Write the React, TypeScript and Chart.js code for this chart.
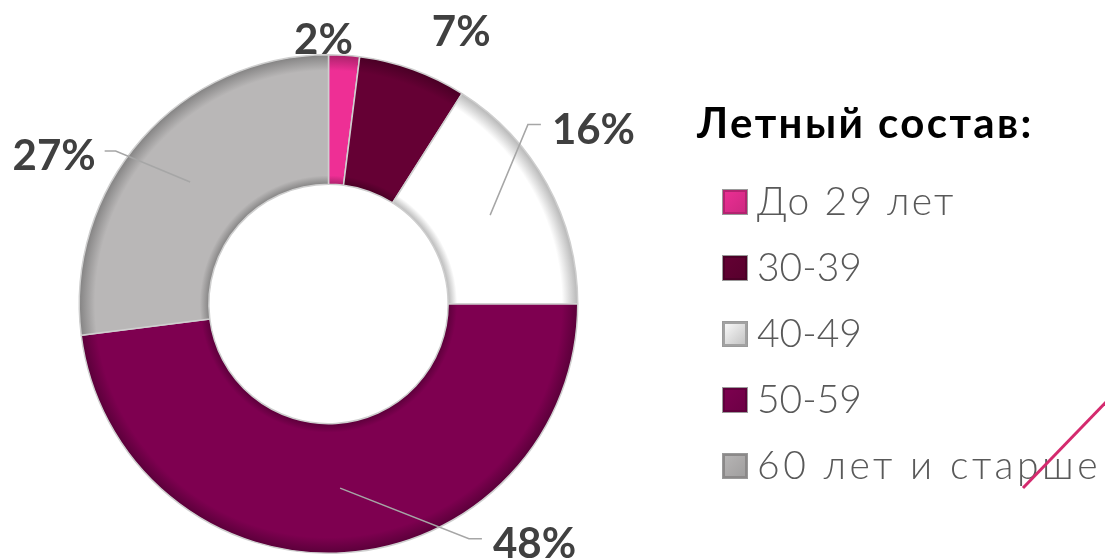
import React, { useEffect, useRef } from "react";
import { Chart, registerables } from "chart.js";

Chart.register(...registerables);

// ---- data ----
const categories = ["До 29 лет", "30-39", "40-49", "50-59", "60 лет и старше"];
const shares = [2, 7, 16, 48, 27];
const valueLabels = ["2%", "7%", "16%", "48%", "27%"];
const legendTitle = "Летный состав:";

// ---- style ----
const sliceColors = ["#EE2F95", "#650034", "#FFFFFF", "#7E0050", "#B9B7B7"];
const CUTOUT = 0.48;
const labelPlacement = [
  { dAngle: -4.7, dRadius: 16, leader: false },
  { dAngle: 6.1, dRadius: 54.6, leader: false },
  { dAngle: -4.7, dRadius: 68.5, leader: true },
  { dAngle: -37.2, dRadius: 66, leader: true },
  { dAngle: -12.9, dRadius: 63, leader: true },
];
const LABEL_FONT = "bold 42px Lato, 'Open Sans', sans-serif";
const LEGEND_TITLE_FONT = "bold 42px Lato, 'Open Sans', sans-serif";
const LEGEND_FONT = "300 39px Lato, 'Open Sans', sans-serif";

function shade(hex: string, f: number) {
  const n = parseInt(hex.slice(1), 16);
  const r = Math.round(((n >> 16) & 255) * f);
  const g = Math.round(((n >> 8) & 255) * f);
  const b = Math.round((n & 255) * f);
  return `rgb(${r},${g},${b})`;
}

function bevelFill(ctx: any) {
  const chart = ctx.chart;
  const area = chart.chartArea;
  const base = sliceColors[ctx.dataIndex];
  if (!area) return base;
  const outer = Math.min(area.right - area.left, area.bottom - area.top) / 2 - 1;
  const inner = outer * CUTOUT;
  const cx = (area.left + area.right) / 2;
  const cy = (area.top + area.bottom) / 2;
  const g = chart.ctx.createRadialGradient(cx, cy, inner, cx, cy, outer);
  g.addColorStop(0, shade(base, 0.72));
  g.addColorStop(0.07, base);
  g.addColorStop(0.88, base);
  g.addColorStop(1, shade(base, 0.72));
  return g;
}

const labelsPlugin = {
  id: "valueLabels",
  afterDatasetsDraw(chart: any) {
    const ctx = chart.ctx;
    const meta = chart.getDatasetMeta(0);
    ctx.save();
    ctx.font = LABEL_FONT;
    meta.data.forEach((arc: any, i: number) => {
      const p = arc.getProps(["x", "y", "startAngle", "endAngle", "innerRadius", "outerRadius"], true);
      const mid = (p.startAngle + p.endAngle) / 2;
      const pl = labelPlacement[i];
      const ang = mid + (pl.dAngle * Math.PI) / 180;
      const rad = p.outerRadius + pl.dRadius;
      const lx = p.x + Math.cos(ang) * rad;
      const ly = p.y + Math.sin(ang) * rad;
      const text = valueLabels[i];
      const w = ctx.measureText(text).width;
      if (pl.leader) {
        const rm = (p.innerRadius + p.outerRadius) / 2;
        const sx = p.x + Math.cos(mid) * rm;
        const sy = p.y + Math.sin(mid) * rm;
        let ex: number, hx: number;
        const yy = ly - 4;
        if (lx > sx) {
          ex = lx - w / 2 - 24;
          hx = lx - w / 2 - 11;
        } else {
          ex = lx + w / 2 + 20;
          hx = lx + w / 2 + 9;
        }
        ctx.strokeStyle = "#A6A6A6";
        ctx.lineWidth = 1.5;
        ctx.beginPath();
        ctx.moveTo(sx, sy);
        ctx.lineTo(ex, yy);
        ctx.lineTo(hx, yy);
        ctx.stroke();
      }
      ctx.fillStyle = "#404040";
      ctx.textAlign = "center";
      ctx.textBaseline = "alphabetic";
      ctx.fillText(text, lx, ly + 15);
    });
    ctx.restore();
  },
};

const legendPlugin = {
  id: "sideLegend",
  afterDraw(chart: any) {
    const ctx = chart.ctx;
    ctx.save();
    ctx.textAlign = "left";
    ctx.textBaseline = "alphabetic";
    ctx.font = LEGEND_TITLE_FONT;
    ctx.fillStyle = "#000000";
    (ctx as any).letterSpacing = "2.4px";
    ctx.fillText(legendTitle, 697, 138);
    const x0 = 722;
    const size = 26;
    categories.forEach((name, i) => {
      const base = 215 + i * 66;
      const top = base - size;
      const c = sliceColors[i];
      // bevelled marker
      (ctx as any).letterSpacing = "0px";
      ctx.fillStyle = shade(c === "#FFFFFF" ? "#D8D8D8" : c, 0.75);
      ctx.fillRect(x0, top, size, size);
      const g = ctx.createLinearGradient(x0, top, x0 + size, top + size);
      g.addColorStop(0, c === "#FFFFFF" ? "#FFFFFF" : shade(c, 1.0));
      g.addColorStop(1, c === "#FFFFFF" ? "#BDBDBD" : shade(c, 0.85));
      ctx.fillStyle = g;
      ctx.fillRect(x0 + 3, top + 3, size - 6, size - 6);
      ctx.strokeStyle = "#9A9A9A";
      ctx.lineWidth = 1;
      ctx.strokeRect(x0 + 0.5, top + 0.5, size - 1, size - 1);
      ctx.font = LEGEND_FONT;
      ctx.fillStyle = "#595959";
      const hasLetters = /[А-Яа-я]/.test(name);
      (ctx as any).letterSpacing = hasLetters ? (name.length > 10 ? "3.6px" : "2.3px") : "0px";
      ctx.fillText(name, 757, base);
    });
    (ctx as any).letterSpacing = "0px";
    // decorative accent line
    ctx.strokeStyle = "#D42A6E";
    ctx.lineWidth = 3;
    ctx.beginPath();
    ctx.moveTo(1023, 488);
    ctx.lineTo(1110, 398);
    ctx.stroke();
    ctx.restore();
  },
};

export default function App() {
  const ref = useRef<HTMLCanvasElement | null>(null);
  useEffect(() => {
    if (!ref.current) return;
    const chart = new Chart(ref.current, {
      type: "doughnut",
      data: {
        labels: categories,
        datasets: [
          {
            data: shares,
            backgroundColor: bevelFill as any,
            borderColor: "#CFCFCF",
            borderWidth: 1.5,
          },
        ],
      },
      options: {
        responsive: false,
        animation: false,
        cutout: `${CUTOUT * 100}%`,
        layout: { padding: { left: 78, right: 526, top: 54, bottom: 4 } },
        plugins: { legend: { display: false }, tooltip: { enabled: false } },
      },
      plugins: [labelsPlugin, legendPlugin],
    });
    return () => chart.destroy();
  }, []);
  return (
    <div style={{ position: "absolute", left: 0, top: 0, width: 1105, height: 558, background: "#fff" }}>
      <canvas ref={ref} width={1105} height={558} style={{ width: 1105, height: 558 }} />
    </div>
  );
}
